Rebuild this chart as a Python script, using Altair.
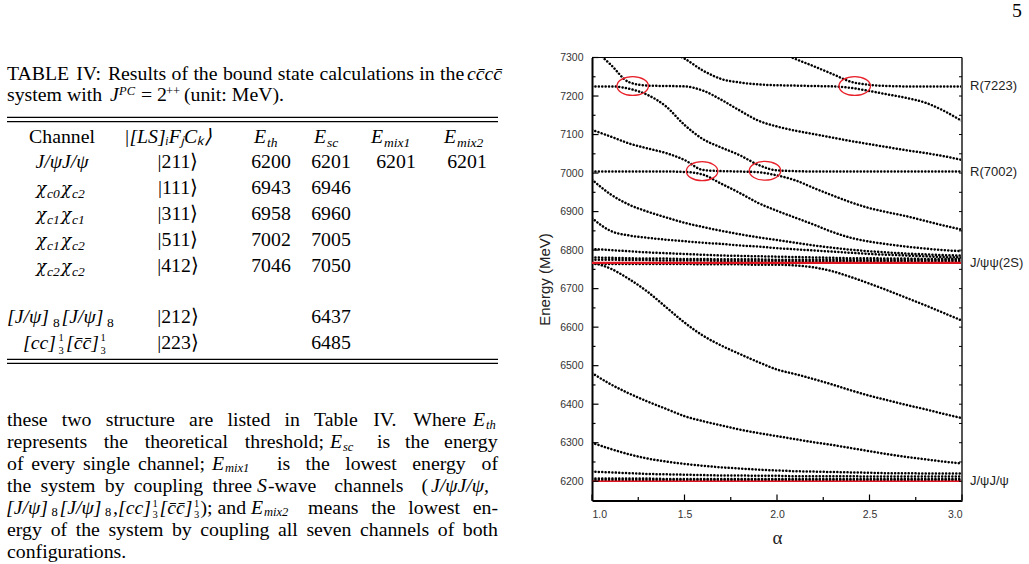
import altair as alt
import pandas as pd

# ---------------- page geometry ----------------
PL, PT = 592, 57.5          # plot-area origin on the page
W, H = 370, 443             # plot-area size
SERIF = "Liberation Serif"
GREEK = "DejaVu Serif"
SANS = "Liberation Sans"
FS = 19.8                   # body text size
FS_SUB = 13.5               # subscript size in the table
FS_PSUB = 12.5              # subscript size in running text
FS_SUP = 12.5               # superscript size
FS_TINY = 10.5              # stacked sub/superscripts

# ---------------- spectrum data (energy in MeV versus alpha) ----------------
alpha = [1.0, 1.1, 1.2, 1.3, 1.4, 1.5, 1.6, 1.7, 1.8, 1.9, 2.0,
         2.1, 2.2, 2.3, 2.4, 2.5, 2.6, 2.7, 2.8, 2.9, 3.0]
N = None
bands = {
    "b01": [N, N, N, N, N, N, N, N, N, N, 7316, 7296, 7277, 7257, 7237, 7229, 7226, 7225, 7225, 7225, 7225],
    "b02": [N, N, N, N, 7318, 7297, 7266, 7244, 7235, 7230, 7228, 7227, 7226, 7225, 7221, 7213, 7204, 7195, 7183, 7162, 7135],
    "b03": [7325, 7282, 7236, 7227, 7226, 7225, 7214, 7190, 7162, 7136, 7121, 7110, 7101, 7092, 7083, 7075, 7067, 7059, 7052, 7044, 7034],
    "b04": [7225, 7225, 7219, 7203, 7173, 7125, 7088, 7066, 7046, 7021, 7007, 7005, 7004, 7004, 7004, 7004, 7004, 7004, 7004, 7004, 7004],
    "b05": [7112, 7095, 7077, 7064, 7052, 7034, 7008, 7005, 7004, 7002, 6994, 6981, 6961, 6942, 6924, 6909, 6898, 6888, 6876, 6864, 6853],
    "b06": [7004, 7004, 7004, 7004, 7004, 7003, 6996, 6972, 6948, 6922, 6902, 6884, 6866, 6847, 6832, 6822, 6815, 6809, 6804, 6800, 6797],
    "b07": [6983, 6945, 6918, 6900, 6885, 6871, 6860, 6850, 6841, 6833, 6826, 6819, 6812, 6806, 6801, 6797, 6794, 6791, 6789, 6787, 6786],
    "b08": [6883, 6850, 6838, 6832, 6827, 6823, 6819, 6816, 6812, 6809, 6805, 6802, 6799, 6796, 6793, 6790, 6788, 6786, 6784, 6782, 6781],
    "b09": [6803, 6800, 6797, 6794, 6792, 6790, 6788, 6786, 6785, 6784, 6783, 6782, 6781, 6780, 6779, 6779, 6778, 6778, 6777, 6777, 6777],
    "b10": [6781, 6780, 6779, 6778, 6778, 6777, 6777, 6776, 6776, 6776, 6775, 6775, 6775, 6775, 6774, 6774, 6774, 6774, 6774, 6774, 6774],
    "b11": [6775, 6775, 6774, 6774, 6773, 6773, 6773, 6772, 6772, 6772, 6772, 6771, 6771, 6771, 6771, 6771, 6771, 6771, 6771, 6771, 6771],
    "b12": [6764, 6764, 6764, 6764, 6764, 6764, 6763, 6763, 6763, 6762, 6762, 6760, 6755, 6745, 6730, 6713, 6695, 6676, 6657, 6637, 6617],
    "b13": [6768, 6752, 6725, 6692, 6652, 6612, 6578, 6552, 6530, 6509, 6490, 6478, 6465, 6451, 6436, 6422, 6410, 6398, 6387, 6375, 6364],
    "b14": [6481, 6452, 6428, 6407, 6388, 6369, 6356, 6345, 6334, 6325, 6317, 6309, 6301, 6294, 6286, 6278, 6270, 6263, 6257, 6251, 6246],
    "b15": [6300, 6284, 6270, 6259, 6251, 6245, 6240, 6236, 6233, 6230, 6228, 6226, 6225, 6224, 6223, 6222, 6221, 6221, 6220, 6220, 6220],
    "b16": [6225, 6223, 6221, 6219, 6218, 6217, 6216, 6215, 6215, 6214, 6214, 6213, 6213, 6213, 6213, 6212, 6212, 6212, 6212, 6212, 6212],
    "b17": [6207, 6207, 6207, 6207, 6206, 6206, 6206, 6206, 6206, 6206, 6206, 6206, 6206, 6206, 6206, 6206, 6206, 6206, 6206, 6206, 6206],
    "b18": [6203, 6203, 6203, 6203, 6203, 6203, 6203, 6203, 6203, 6203, 6203, 6203, 6203, 6203, 6203, 6203, 6203, 6203, 6203, 6203, 6203],
}

# thresholds (red lines) and labelled states on the right
thr_energy = [6767, 6200]
res_names = ["R(7223)", "R(7002)", "J/ψψ(2S)", "J/ψJ/ψ"]
res_energy = [7225, 7004, 6767, 6200]

# avoided crossings that are circled
cross_alpha = [1.22, 1.595, 1.935, 2.42]
cross_energy = [7226, 7005, 7006, 7226]

# tick positions
y_major = [6200, 6300, 6400, 6500, 6600, 6700, 6800, 6900, 7000, 7100, 7200, 7300]
y_minor = [6250, 6350, 6450, 6550, 6650, 6750, 6850, 6950, 7050, 7150, 7250]
x_major = [1.0, 1.5, 2.0, 2.5, 3.0]
x_minor = [1.25, 1.75, 2.25, 2.75]

# ---------------- table IV ----------------
tab_kets = ["|211⟩", "|111⟩", "|311⟩", "|511⟩", "|412⟩", "|212⟩", "|223⟩"]
tab_eth = [6200, 6943, 6958, 7002, 7046, N, N]
tab_esc = [6201, 6946, 6960, 7005, 7050, 6437, 6485]
tab_mix1 = [6201, N, N, N, N, N, N]
tab_mix2 = [6201, N, N, N, N, N, N]

XS = alt.Scale(domain=[1, 3], nice=False, zero=False)
YS = alt.Scale(domain=[6150, 7300], nice=False, zero=False)

rows = []
for name, vals in bands.items():
    for a, e in zip(alpha, vals):
        if e is not None:
            rows.append({"band": name, "alpha": a, "E": e})
curves_df = pd.DataFrame(rows)

curves = alt.Chart(curves_df).mark_line(
    color="black", strokeWidth=2.5, strokeDash=[0.1, 3.3], strokeCap="round",
    interpolate="monotone", clip=True
).encode(
    x=alt.X("alpha:Q", scale=XS, axis=alt.Axis(
        values=x_major, format=".1f", title="α", tickSize=0, grid=False,
        domainColor="black", domainWidth=2, labelFont=SANS, labelFontSize=10.5,
        labelColor="#333", labelPadding=9, titleFont=SERIF, titleFontSize=19,
        titleFontWeight="normal", titleColor="#222", titlePadding=8)),
    y=alt.Y("E:Q", scale=YS, axis=alt.Axis(
        values=y_major, format="d", title="Energy (MeV)", tickSize=0, grid=False,
        domainColor="black", domainWidth=2, labelFont=SANS, labelFontSize=10.5,
        labelColor="#333", labelPadding=9, titleFont=SANS, titleFontSize=15,
        titleFontWeight="normal", titleColor="#222", titlePadding=7)),
    detail="band:N",
)

thr_df = pd.DataFrame({"E": thr_energy, "a0": 1.0, "a1": 3.0})
thr_upper = alt.Chart(thr_df.iloc[[0]]).mark_rule(color="#e0141e", strokeWidth=2.2).encode(
    x=alt.X("a0:Q", scale=XS, axis=None), x2="a1:Q", y=alt.Y("E:Q", scale=YS, axis=None))
thr_lower = alt.Chart(thr_df.iloc[[1]]).mark_rule(color="#e0141e", strokeWidth=1.6).encode(
    x=alt.X("a0:Q", scale=XS, axis=None), x2="a1:Q", y=alt.Y("E:Q", scale=YS, axis=None))

ELLIPSE = "M -1 0 A 1 0.6 0 1 1 1 0 A 1 0.6 0 1 1 -1 0 Z"
cross = alt.Chart(pd.DataFrame({"alpha": cross_alpha, "E": cross_energy})).mark_point(
    shape=ELLIPSE, size=31.5 ** 2, filled=False, color="#e8202a", strokeWidth=1.3, opacity=1
).encode(x=alt.X("alpha:Q", scale=XS, axis=None), y=alt.Y("E:Q", scale=YS, axis=None))

labels = alt.Chart(pd.DataFrame({"name": res_names, "E": res_energy})).mark_text(
    align="left", baseline="middle", font=SANS, fontSize=13, color="#222"
).encode(x=alt.value(W + 8), y=alt.Y("E:Q", scale=YS, axis=None), text="name:N")

# frame: top and right edges
top_edge = alt.Chart(pd.DataFrame({"E": [7300], "a0": [1.0], "a1": [3.0]})).mark_rule(
    color="black", strokeWidth=1.2).encode(
    x=alt.X("a0:Q", scale=XS, axis=None), x2="a1:Q", y=alt.Y("E:Q", scale=YS, axis=None))
right_edge = alt.Chart(pd.DataFrame({"a": [3.0], "e0": [6150], "e1": [7300]})).mark_rule(
    color="#555", strokeWidth=2).encode(
    x=alt.X("a:Q", scale=XS, axis=None), y=alt.Y("e0:Q", scale=YS, axis=None), y2="e1:Q")


def ytick(values, x0, x1, width):
    return alt.Chart(pd.DataFrame({"E": values})).mark_rule(color="black", strokeWidth=width).encode(
        y=alt.Y("E:Q", scale=YS, axis=None), x=alt.value(x0), x2=alt.value(x1))


def xtick(values, length):
    return alt.Chart(pd.DataFrame({"alpha": values})).mark_rule(color="black", strokeWidth=1.2).encode(
        x=alt.X("alpha:Q", scale=XS, axis=None), y=alt.value(H), y2=alt.value(H - length))


ticks = [ytick(y_major, 0, 6.5, 1.2), ytick(y_minor, 0, 3.5, 1.2),
         ytick(y_major + y_minor, W, W - 3, 1.0), xtick(x_major, 6), xtick(x_minor, 3.5)]

# ---------------- page text (positions in page pixels) ----------------
# Times-compatible advance widths (em/1000) used to justify lines of text
ADV = {" ": 250, "a": 444, "b": 500, "c": 444, "d": 500, "e": 444, "f": 333, "g": 500,
       "h": 500, "i": 278, "j": 278, "k": 500, "l": 278, "m": 778, "n": 500, "o": 500,
       "p": 500, "q": 500, "r": 333, "s": 389, "t": 278, "u": 500, "v": 500, "w": 722,
       "x": 500, "y": 500, "z": 444, "A": 722, "B": 667, "E": 611, "I": 333, "L": 611,
       "M": 889, "R": 667, "T": 611, "V": 722, "W": 944, ".": 250, ",": 250, ";": 278,
       ":": 278, "-": 333, "(": 333, ")": 333}


def adv(s, size):
    return sum(ADV.get(ch, 500) for ch in s) / 1000.0 * size


roman, italic, small_r, small_i, psub_r, psub_i, sup_r, sup_i, tiny, greek = ([] for _ in range(10))


def justify(text, x0, x1, y, size=FS):
    words = text.split(" ")
    if len(words) == 1:
        roman.append((x0, y, text, "left"))
        return
    widths = [adv(w, size) for w in words]
    gap = max((x1 - x0 - sum(widths)) / (len(words) - 1), 0.27 * size)
    x = x0
    for w, wd in zip(words, widths):
        roman.append((x, y, w, "left"))
        x += wd + gap


# caption
justify("TABLE IV: Results of the bound state calculations in the", 7, 462, 80)
italic.append((467, 80, "cc̄cc̄", "left"))
roman.append((7, 101, "system with", "left"))
italic.append((110, 101, "J", "left"))
sup_i.append((119, 94.5, "PC", "left"))
roman.append((141, 101, "= 2", "left"))
sup_r.append((166, 94.5, "++", "left"))
roman.append((184, 101, "(unit: MeV).", "left"))

# header
roman.append((62, 143, "Channel", "center"))
italic.append((168, 143, "|[LS]ᵢFⱼCₖ⟩", "center"))
for xe, sub in [(254, "th"), (314, "sc"), (371, "mix1"), (444, "mix2")]:
    italic.append((xe, 143, "E", "left"))
    small_i.append((xe + 13, 147, sub, "left"))

row_base = [168, 194, 220, 246, 272, 323, 349]
italic.append((62, row_base[0], "J/ψJ/ψ", "center"))
for yb, (s1, s2) in zip(row_base[1:5], [("c0", "c2"), ("c1", "c1"), ("c1", "c2"), ("c2", "c2")]):
    greek.append((36, yb, "χ", "left"))
    small_i.append((47, yb + 4, s1, "left"))
    greek.append((61, yb, "χ", "left"))
    small_i.append((72, yb + 4, s2, "left"))
italic.append((7, row_base[5], "[J/ψ]", "left"))
small_r.append((53, row_base[5] + 4, "8", "left"))
italic.append((61.5, row_base[5], "[J/ψ]", "left"))
small_r.append((107, row_base[5] + 4, "8", "left"))
italic.append((23, row_base[6], "[cc]", "left"))
tiny.append((58.5, row_base[6] - 8, "1", "left"))
tiny.append((58.5, row_base[6] + 5, "3", "left"))
italic.append((66, row_base[6], "[c̄c̄]", "left"))
tiny.append((100.5, row_base[6] - 8, "1", "left"))
tiny.append((100.5, row_base[6] + 5, "3", "left"))

col_x = [178, 271, 331, 396, 467]
for yb, k, a, b, c, d in zip(row_base, tab_kets, tab_eth, tab_esc, tab_mix1, tab_mix2):
    for cx, v in zip(col_x, [k, a, b, c, d]):
        if v is not None:
            roman.append((cx, yb, str(v), "center"))

# paragraph (justified between x = 7 and x = 498)
pb = [426, 448, 470, 492, 514, 536, 558]
justify("these two structure are listed in Table IV. Where", 7, 466, pb[0])
italic.append((473, pb[0], "E", "left")); psub_i.append((486, pb[0] + 2.5, "th", "left"))
justify("represents the theoretical threshold;", 7, 324, pb[1])
italic.append((330, pb[1], "E", "left")); psub_i.append((343, pb[1] + 2.5, "sc", "left"))
justify("is the energy", 377, 498, pb[1])
justify("of every single channel;", 7, 205, pb[2])
italic.append((212, pb[2], "E", "left")); psub_i.append((225, pb[2] + 2, "mix1", "left"))
justify("is the lowest energy of", 277, 498, pb[2])
justify("the system by coupling three", 7, 252, pb[3])
italic.append((257, pb[3], "S", "left"))
justify("-wave channels (", 268, 428, pb[3])
italic.append((431, pb[3], "J/ψJ/ψ,", "left"))
italic.append((6, pb[4], "[J/ψ]", "left")); psub_r.append((51.5, pb[4] + 2, "8", "left"))
italic.append((59.5, pb[4], "[J/ψ]", "left")); psub_r.append((105, pb[4] + 2, "8", "left"))
italic.append((113, pb[4], ",[cc]", "left"))
tiny.append((152.5, pb[4] - 7.5, "1", "left")); tiny.append((152.5, pb[4] + 3.5, "3", "left"))
italic.append((159.5, pb[4], "[c̄c̄]", "left"))
tiny.append((194, pb[4] - 7.5, "1", "left")); tiny.append((194, pb[4] + 3.5, "3", "left"))
roman.append((200.5, pb[4], "); and", "left"))
italic.append((251, pb[4], "E", "left")); psub_i.append((264, pb[4] + 2, "mix2", "left"))
justify("means the lowest en-", 308, 498, pb[4])
justify("ergy of the system by coupling all seven channels of both", 7, 498, pb[5])
roman.append((7, pb[6], "configurations.", "left"))

roman.append((1017, 17, "5", "center"))


def text_layers(runs, size, style, font=SERIF):
    df = pd.DataFrame(runs, columns=["x", "y", "text", "align"])
    df["x"] = df["x"] - PL
    df["y"] = df["y"] - PT
    out = []
    for al in ["left", "center"]:
        part = df[df["align"] == al]
        if len(part):
            out.append(alt.Chart(part).mark_text(
                align=al, baseline="alphabetic", font=font, fontSize=size,
                fontStyle=style, color="black"
            ).encode(x=alt.X("x:Q", scale=None, axis=None),
                     y=alt.Y("y:Q", scale=None, axis=None), text="text:N"))
    return out


texts = (text_layers(roman, FS, "normal") + text_layers(italic, FS, "italic")
         + text_layers(small_r, FS_SUB, "normal") + text_layers(small_i, FS_SUB, "italic")
         + text_layers(psub_r, FS_PSUB, "normal") + text_layers(psub_i, FS_PSUB, "italic")
         + text_layers(sup_r, FS_SUP, "normal") + text_layers(sup_i, FS_SUP, "italic")
         + text_layers(tiny, FS_TINY, "normal") + text_layers(greek, 17, "italic", GREEK))

# table rules
rule_y = [117.3, 121.7, 359.3, 363.3]
rules = alt.Chart(pd.DataFrame({"y": [v - PT for v in rule_y]})).mark_rule(
    color="black", strokeWidth=1.3).encode(
    y=alt.Y("y:Q", scale=None, axis=None), x=alt.value(7 - PL), x2=alt.value(498 - PL))

chart = alt.layer(
    curves, thr_upper, thr_lower, cross, labels, top_edge, right_edge, *ticks, rules, *texts
).resolve_scale(x="independent", y="independent").properties(
    width=W, height=H, autosize="none",
    padding={"left": PL, "top": PT, "right": 1029 - PL - W, "bottom": 564 - PT - H},
    background="white",
).configure_view(stroke=None)

chart.save("out.html", embed_options={"renderer": "svg", "actions": False})
